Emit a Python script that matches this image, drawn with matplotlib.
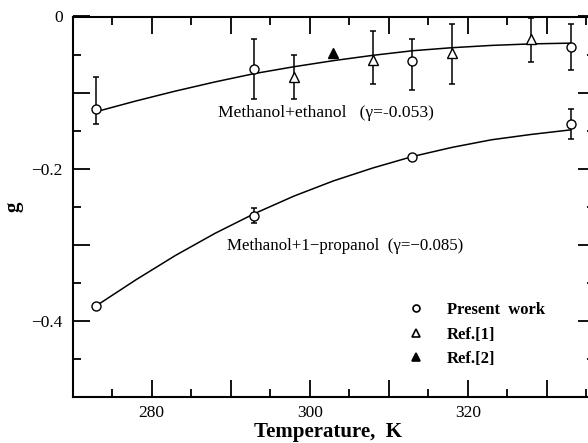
import matplotlib
matplotlib.use("Agg")
import matplotlib.pyplot as plt
from matplotlib.ticker import MultipleLocator, FuncFormatter
from matplotlib.lines import Line2D

plt.rcParams['font.family'] = ['Liberation Serif', 'DejaVu Serif']
plt.rcParams['mathtext.fontset'] = 'stix'

# Methanol + ethanol: present work (open circles)
eth_T = [273, 293, 313, 333]
eth_g = [-0.121, -0.069, -0.059, -0.040]
eth_err_lo = [0.020, 0.040, 0.038, 0.030]
eth_err_hi = [0.041, 0.040, 0.030, 0.030]

# Ref.[1] (open triangles)
ref1_T = [298, 308, 318, 328]
ref1_g = [-0.079, -0.057, -0.048, -0.029]
ref1_err_lo = [0.029, 0.032, 0.041, 0.031]
ref1_err_hi = [0.029, 0.038, 0.038, 0.027]

# Ref.[2] (filled triangle)
ref2_T = [303]
ref2_g = [-0.048]

# Methanol + 1-propanol: present work (open circles)
prop_T = [273, 293, 313, 333]
prop_g = [-0.381, -0.262, -0.185, -0.141]
prop_err = [0.0, 0.010, 0.003, 0.020]

# Fitted curves
fit_T = [273, 278, 283, 288, 293, 298, 303, 308, 313, 318, 323, 328, 333]
fit_eth = [-0.125, -0.111, -0.098, -0.086, -0.075, -0.066, -0.058, -0.051,
           -0.045, -0.041, -0.038, -0.036, -0.035]
fit_prop = [-0.380, -0.346, -0.314, -0.285, -0.259, -0.236, -0.216, -0.199,
            -0.184, -0.172, -0.162, -0.155, -0.149]

label_eth = "Methanol+ethanol   (\u03b3=-0.053)"
label_prop = "Methanol+1\u2212propanol  (\u03b3=\u22120.085)"
legend_labels = ["Present  work", "Ref.[1]", "Ref.[2]"]

fig = plt.figure(figsize=(5.88, 4.43), dpi=100)
ax = fig.add_axes([72.7 / 588, 46 / 443, (595 - 72.7) / 588, 380.5 / 443])

lw = 1.1
ax.plot(fit_T, fit_eth, color='black', lw=lw, zorder=2)
ax.plot(fit_T, fit_prop, color='black', lw=lw, zorder=2)

ekw = dict(fmt='none', ecolor='black', elinewidth=1.1, capsize=2.4, capthick=1.1, zorder=3)
ax.errorbar(eth_T, eth_g, yerr=[eth_err_lo, eth_err_hi], **ekw)
ax.errorbar(ref1_T, ref1_g, yerr=[ref1_err_lo, ref1_err_hi], **ekw)
ax.errorbar(prop_T, prop_g, yerr=prop_err, **ekw)

mkw = dict(ls='none', mec='black', mew=1.0, zorder=4)
ax.plot(eth_T, eth_g, marker='o', ms=6.5, mfc='white', **mkw)
ax.plot(prop_T, prop_g, marker='o', ms=6.5, mfc='white', **mkw)
ax.plot(ref1_T, ref1_g, marker='^', ms=7, mfc='white', **mkw)
ax.plot(ref2_T, ref2_g, marker='^', ms=7, mfc='black', **mkw)

ax.text(288.4, -0.127, label_eth, fontsize=12.6, va='center', ha='left')
ax.text(289.5, -0.301, label_prop, fontsize=12.2, va='center', ha='left')

ax.set_xlim(270, 336.1)
ax.set_ylim(-0.5, 0)

ax.xaxis.set_major_locator(MultipleLocator(10))
ax.xaxis.set_minor_locator(MultipleLocator(5))
ax.yaxis.set_major_locator(MultipleLocator(0.1))
ax.yaxis.set_minor_locator(MultipleLocator(0.05))


def xfmt(v, pos):
    return "%d" % round(v) if round(v) % 20 == 0 else ""


def yfmt(v, pos):
    k = round(v * 10)
    if k % 2 != 0:
        return ""
    if k == 0:
        return "0"
    return ("%.1f" % (k / 10)).replace("-", "\u2212")


ax.xaxis.set_major_formatter(FuncFormatter(xfmt))
ax.yaxis.set_major_formatter(FuncFormatter(yfmt))
ax.tick_params(which='both', direction='in', top=True, right=True, width=1.3,
               labelsize=12.5, colors='black')
ax.tick_params(which='major', length=12)
ax.tick_params(which='minor', length=6)
ax.tick_params(axis='y', which='major', pad=7)
ax.tick_params(axis='x', which='major', pad=6)
for s in ax.spines.values():
    s.set_linewidth(1.5)

ax.set_xlabel("Temperature,  K", fontsize=15, fontweight='bold')
ax.xaxis.set_label_coords((328 - 72.7) / (595 - 72.7), -0.066)
ax.set_ylabel("g", fontsize=15, fontweight='bold')
ax.yaxis.set_label_coords((23 - 72.7) / (595 - 72.7), 0.5)

handles = [
    Line2D([], [], ls='none', marker='o', ms=5, mfc='white', mec='black', mew=1.2),
    Line2D([], [], ls='none', marker='^', ms=6, mfc='white', mec='black', mew=1.2),
    Line2D([], [], ls='none', marker='^', ms=6, mfc='black', mec='black', mew=1.2),
]
ax.legend(handles, legend_labels, loc='upper left',
          bbox_to_anchor=((408 - 72.7) / 522.3, (396.7 - 302) / 380.5),
          frameon=False, prop={'weight': 'bold', 'size': 12},
          handlelength=1.0, handletextpad=1.35, labelspacing=0.5,
          borderaxespad=0, borderpad=0)

fig.savefig("out.png", dpi=100)
